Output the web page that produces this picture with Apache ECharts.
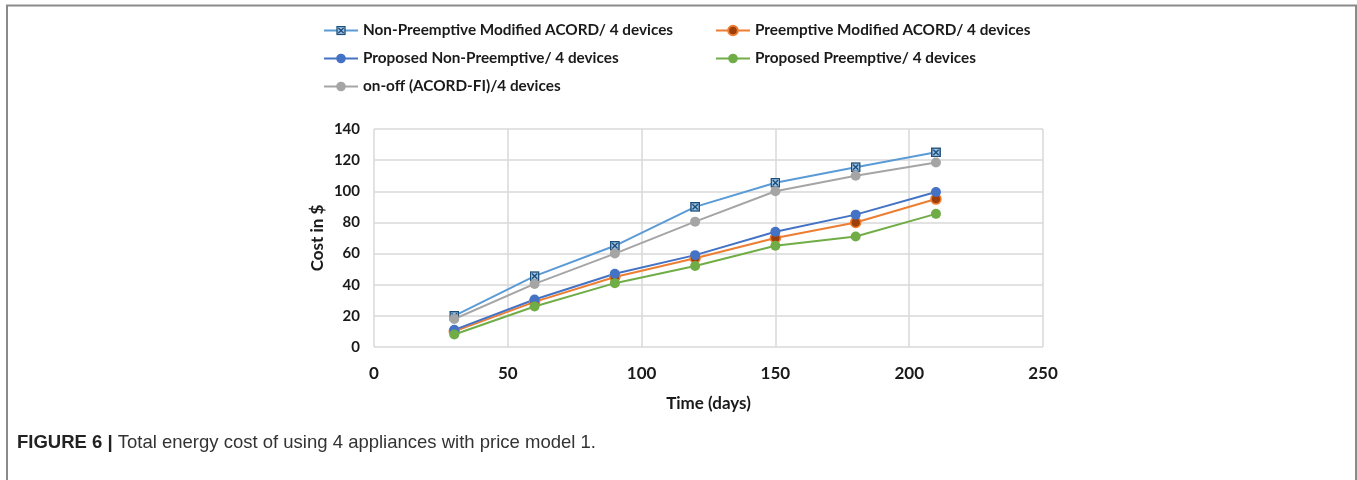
<!DOCTYPE html>
<html>
<head>
<meta charset="utf-8">
<script src="https://cdn.jsdelivr.net/npm/echarts@6/dist/echarts.min.js"></script>
<style>
html,body{margin:0;padding:0;background:#fff;}
#c{width:1357px;height:480px;}
</style>
</head>
<body>
<div id="c"></div>
<script>
const days = [30, 60, 90, 120, 150, 180, 210];
const nonPreemptiveModified = [20, 45.5, 65, 90, 105.5, 115.5, 125];
const preemptiveModified = [10, 29, 45, 57, 70, 80, 95];
const proposedNonPreemptive = [11, 30.5, 47, 59, 74, 85, 99.5];
const proposedPreemptive = [8, 26, 41, 52, 65, 71, 85.5];
const onOff = [18, 40.5, 60, 80.5, 100, 110, 118.5];
const seriesNames = [
  'Non-Preemptive Modified ACORD/ 4 devices',
  'Preemptive Modified ACORD/ 4 devices',
  'Proposed Non-Preemptive/ 4 devices',
  'Proposed Preemptive/ 4 devices',
  'on-off (ACORD-FI)/4 devices'
];
const xTicks = [0, 50, 100, 150, 200, 250];
const yTicks = [0, 20, 40, 60, 80, 100, 120, 140];
const captionBold = 'FIGURE 6 |';
const captionText = ' Total energy cost of using 4 appliances with price model 1.';

const pairs = vals => days.map((d, i) => [d, vals[i]]);
const boxX = 'image://data:image/svg+xml;utf8,' + encodeURIComponent(
  '<svg xmlns="http://www.w3.org/2000/svg" width="10" height="10" viewBox="0 0 10 10">' +
  '<rect x="0.75" y="0.75" width="8.5" height="8.5" fill="#9DC3E6" stroke="#1F4E79" stroke-width="1.5"/>' +
  '<path d="M2.3 2.3 L7.7 7.7 M7.7 2.3 L2.3 7.7" stroke="#1F4E79" stroke-width="1.4"/></svg>');

const font = 'Lato, "Open Sans", sans-serif';
const chart = echarts.init(document.getElementById('c'));

function lineSeries(name, vals, color, symbol, size, mColor, mBorder) {
  return {
    name: name, type: 'line', data: pairs(vals),
    symbol: symbol, symbolSize: size,
    lineStyle: {color: color, width: 2},
    itemStyle: {color: mColor || color, borderColor: mBorder || mColor || color, borderWidth: mBorder ? 1.5 : 0},
    emphasis: {disabled: true}, animation: false, z: 3
  };
}

const legendText = {fontFamily: font, fontWeight: 'bold', fontSize: 15.3, color: '#1a1a1a'};

chart.setOption({
  animation: false,
  backgroundColor: '#fff',
  grid: {left: 374, top: 129, width: 669, height: 218, containLabel: false},
  legend: [
    {data: [seriesNames[0], seriesNames[2], seriesNames[4]], orient: 'vertical', left: 318, top: 18,
     itemWidth: 34, itemHeight: 12, itemGap: 13, textStyle: legendText, selectedMode: false},
    {data: [seriesNames[1], seriesNames[3]], orient: 'vertical', left: 710, top: 18,
     itemWidth: 34, itemHeight: 12, itemGap: 13, textStyle: legendText, selectedMode: false}
  ],
  xAxis: {
    type: 'value', min: xTicks[0], max: xTicks[xTicks.length-1], interval: 50,
    name: 'Time (days)', nameLocation: 'middle', nameGap: 48,
    nameTextStyle: {fontFamily: font, fontWeight: 'bold', fontSize: 17, color: '#1a1a1a'},
    axisLine: {show: false}, axisTick: {show: false},
    axisLabel: {fontFamily: font, fontWeight: 'bold', fontSize: 17, color: '#1a1a1a', margin: 18},
    splitLine: {show: true, lineStyle: {color: '#d9d9d9', width: 1.5}}
  },
  yAxis: {
    type: 'value', min: yTicks[0], max: yTicks[yTicks.length-1], interval: 20,
    name: 'Cost in $', nameLocation: 'middle', nameGap: 48, nameRotate: 90,
    nameTextStyle: {fontFamily: font, fontWeight: 'bold', fontSize: 17, color: '#1a1a1a'},
    axisLine: {show: false}, axisTick: {show: false},
    axisLabel: {fontFamily: font, fontWeight: 'bold', fontSize: 15, color: '#1a1a1a', margin: 14},
    splitLine: {show: true, lineStyle: {color: '#d9d9d9', width: 1.5}}
  },
  series: [
    lineSeries(seriesNames[0], nonPreemptiveModified, '#5B9BD5', boxX, 10),
    lineSeries(seriesNames[1], preemptiveModified, '#ED7D31', 'circle', 10, '#9E3F0A', '#ED7D31'),
    lineSeries(seriesNames[2], proposedNonPreemptive, '#4472C4', 'circle', 10),
    lineSeries(seriesNames[3], proposedPreemptive, '#70AD47', 'circle', 10),
    lineSeries(seriesNames[4], onOff, '#A5A5A5', 'circle', 10)
  ],
  graphic: [
    {type: 'rect', shape: {x: 7, y: 5.5, width: 1349, height: 520}, style: {fill: 'none', stroke: '#8a8a8a', lineWidth: 2}, silent: true},
    {type: 'text', left: 17, top: 433, style: {
      text: '{b|' + captionBold + '}{r|' + captionText + '}',
      rich: {
        b: {fontFamily: '"Liberation Sans", Arial, sans-serif', fontWeight: 'bold', fontSize: 18.5, fill: '#222'},
        r: {fontFamily: '"Liberation Sans", Arial, sans-serif', fontSize: 18.5, fill: '#333'}
      }
    }}
  ]
});
</script>
</body>
</html>
